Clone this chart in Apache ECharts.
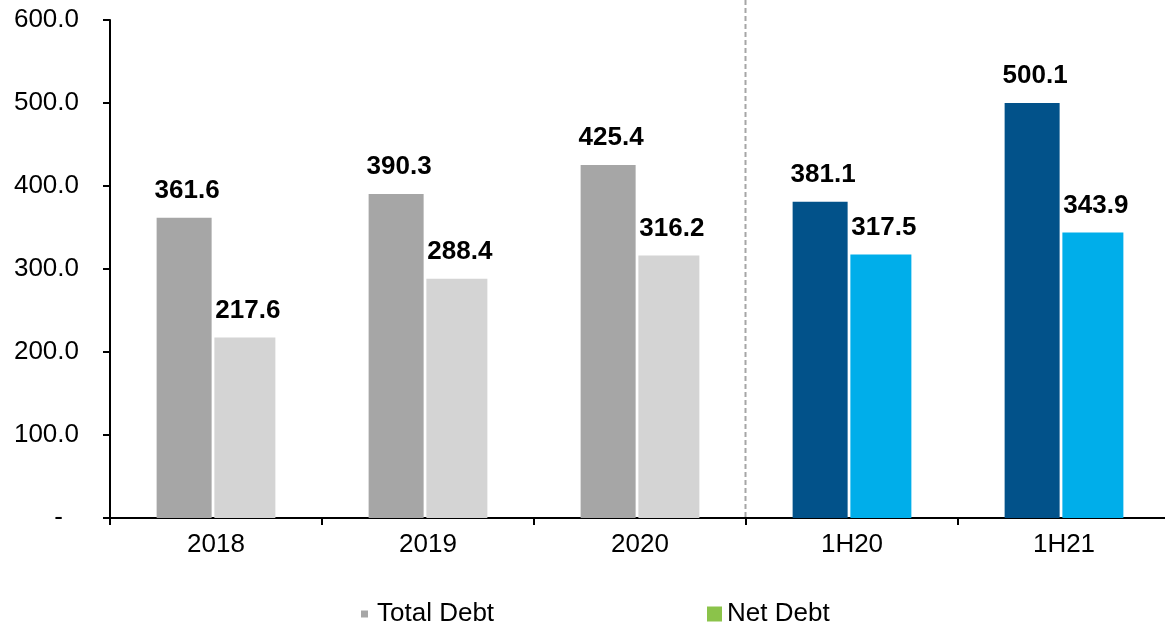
<!DOCTYPE html>
<html>
<head>
<meta charset="utf-8">
<script src="https://cdn.jsdelivr.net/npm/echarts@6/dist/echarts.min.js"></script>
<style>
  html, body { margin: 0; padding: 0; background: #ffffff; overflow: hidden; }
  /* the plot area runs a few pixels past the right edge of the window */
  #chart { width: 1175px; height: 627px; }
</style>
</head>
<body>
<div id="chart"></div>
<script>
// Debt by period (values in millions)
var categories = ['2018', '2019', '2020', '1H20', '1H21'];
var totalDebt = [361.6, 390.3, 425.4, 381.1, 500.1];
var netDebt = [217.6, 288.4, 316.2, 317.5, 343.9];
var yTicks = [0, 100, 200, 300, 400, 500, 600];

// Annual columns are grey, half-year columns are blue
var totalColors = ['#A6A6A6', '#A6A6A6', '#A6A6A6', '#02528A', '#02528A'];
var netColors = ['#D4D4D4', '#D4D4D4', '#D4D4D4', '#00AEEA', '#00AEEA'];

var FONT = '"Liberation Sans", Arial, sans-serif';

var chart = echarts.init(document.getElementById('chart'), null, { renderer: 'canvas' });

function coloured(values, colors) {
  return values.map(function (v, i) {
    return { value: v, itemStyle: { color: colors[i] } };
  });
}

var valueLabel = {
  show: true,
  position: 'top',
  distance: 14,
  offset: [3, 0],
  color: '#000',
  fontFamily: FONT,
  fontWeight: 'bold',
  fontSize: 26,
  formatter: function (p) { return p.value.toFixed(1); }
};

chart.setOption({
  animation: false,
  textStyle: { fontFamily: FONT },
  grid: { left: 110, right: 5, top: 20, bottom: 109, containLabel: false },
  legend: [
    {
      left: 356, top: 596,
      icon: 'rect', itemWidth: 7, itemHeight: 7,
      textStyle: { fontSize: 26, color: '#000', fontFamily: FONT, padding: [0, 0, 0, 4] },
      data: [{ name: 'Total Debt', itemStyle: { color: '#A6A6A6' } }]
    },
    {
      left: 702, top: 596,
      icon: 'rect', itemWidth: 15, itemHeight: 15,
      textStyle: { fontSize: 26, color: '#000', fontFamily: FONT },
      data: [{ name: 'Net Debt', itemStyle: { color: '#8BC34A' } }]
    }
  ],
  xAxis: {
    type: 'category',
    data: categories,
    axisLine: { lineStyle: { color: '#000', width: 2 } },
    axisTick: { show: true, length: 7, lineStyle: { color: '#000', width: 2 } },
    axisLabel: { color: '#000', fontSize: 26, fontFamily: FONT, margin: 14 }
  },
  yAxis: {
    type: 'value',
    min: yTicks[0],
    max: yTicks[yTicks.length - 1],
    interval: 100,
    axisLine: { show: true, lineStyle: { color: '#000', width: 2 } },
    axisTick: { show: true, length: 7, lineStyle: { color: '#000', width: 2 } },
    splitLine: { show: false },
    axisLabel: {
      color: '#000', fontSize: 26, fontFamily: FONT, margin: 31,
      formatter: function (v) { return v === 0 ? '{d|-}' : v.toFixed(1); },
      rich: { d: { fontSize: 26, fontFamily: FONT, color: '#000', padding: [0, 16, 0, 0] } }
    }
  },
  series: [
    {
      name: 'Total Debt',
      type: 'bar',
      barWidth: 55,
      barGap: '5%',
      data: coloured(totalDebt, totalColors),
      label: valueLabel
    },
    {
      name: 'Net Debt',
      type: 'bar',
      barWidth: 61,
      data: coloured(netDebt, netColors),
      label: valueLabel
    }
  ]
});

// Dashed divider between the annual and the half-year columns
function drawDivider() {
  var zero = chart.convertToPixel({ yAxisIndex: 0 }, 0);
  var a = chart.convertToPixel({ xAxisIndex: 0 }, categories[2]);
  var b = chart.convertToPixel({ xAxisIndex: 0 }, categories[3]);
  var x = Math.round((a + b) / 2) - 0.5;
  chart.setOption({
    graphic: [{
      type: 'line',
      z: 0,
      shape: { x1: x, y1: 0, x2: x, y2: zero },
      style: { stroke: '#A6A6A6', lineWidth: 2, lineDash: [5, 3] }
    }]
  });
}
drawDivider();
</script>
</body>
</html>
